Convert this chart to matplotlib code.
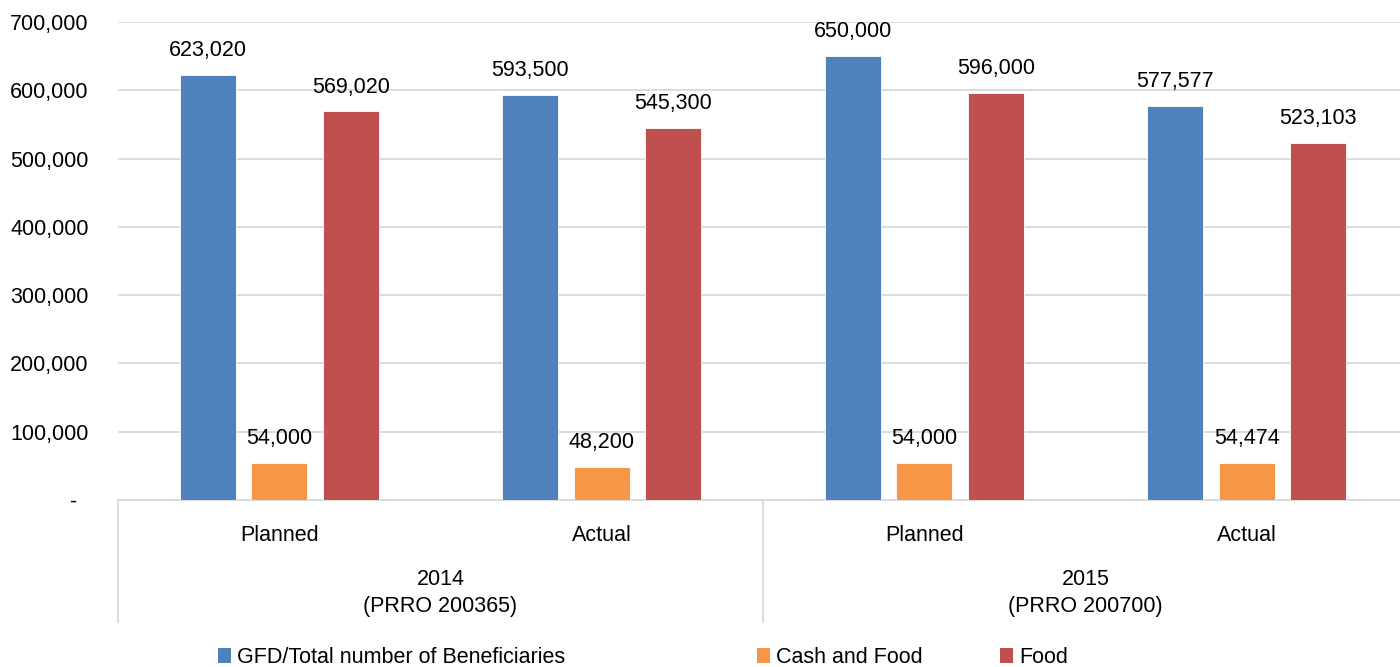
import numpy as np
import matplotlib.pyplot as plt
import matplotlib.transforms as mtransforms
from matplotlib.patches import Patch

plt.rcParams['font.family'] = ['Liberation Sans', 'DejaVu Sans']

# data
phases = ['Planned', 'Actual', 'Planned', 'Actual']
years = ['2014\n(PRRO 200365)', '2015\n(PRRO 200700)']
series_names = ['GFD/Total number of Beneficiaries', 'Cash and Food', 'Food']
gfd_total = [623020, 593500, 650000, 577577]
cash_food = [54000, 48200, 54000, 54474]
food = [569020, 545300, 596000, 523103]
colors = ['#4F81BD', '#F79646', '#C0504D']

FS = 15.5

fig = plt.figure(figsize=(14, 6.67), dpi=100)
ax = fig.add_axes([0.0843, 0.2504, 0.9214, 0.7166])

x = np.arange(len(phases))
width = 0.174
offsets = [-0.222, 0.0, 0.222]
for vals, off, col in zip([gfd_total, cash_food, food], offsets, colors):
    bars = ax.bar(x + off, vals, width, color=col, edgecolor='white', linewidth=0.6, zorder=3)
    for b, v in zip(bars, vals):
        ax.annotate(f'{v:,}', (b.get_x() + b.get_width() / 2, v),
                    xytext=(0, 10), textcoords='offset points',
                    ha='center', va='bottom', fontsize=FS, color='black')

ax.set_xlim(-0.5, 3.5)
ax.set_ylim(0, 700000)
yt = np.arange(0, 700001, 100000)
ax.set_yticks(yt)
ax.set_yticklabels(['-  '] + [f'{v:,}' for v in yt[1:]], fontsize=FS)
ax.tick_params(axis='y', length=0, pad=21)
ax.yaxis.grid(True, color='#d9d9d9', linewidth=1.3, zorder=0)
ax.set_axisbelow(True)
for s in ['top', 'right', 'left']:
    ax.spines[s].set_visible(False)
ax.spines['bottom'].set_color('#d9d9d9')
ax.spines['bottom'].set_linewidth(1.3)

ax.set_xticks(x)
ax.set_xticklabels(phases, fontsize=FS)
ax.tick_params(axis='x', length=0, pad=18)

trans = mtransforms.blended_transform_factory(ax.transData, ax.transAxes)
for i, yl in enumerate(years):
    ax.text(2 * i + 0.5, -0.194, yl, transform=trans, ha='center', va='center',
            fontsize=FS, linespacing=1.4)
for xs in [-0.5, 1.5, 3.5]:
    ax.axvline(xs, ymin=-0.255, ymax=0, color='#d9d9d9', linewidth=1.3, clip_on=False)

# legend entries placed separately to match spacing
legend_x = [0.1557, 0.5407, 0.714]
for name, col, lx in zip(series_names, colors, legend_x):
    fig.legend(handles=[Patch(facecolor=col, label=name)], loc='center left',
               bbox_to_anchor=(lx, 0.014), frameon=False, fontsize=FS,
               handlelength=0.6, handleheight=0.7, handletextpad=0.3,
               borderpad=0, borderaxespad=0)

fig.savefig('out.png', dpi=100)
